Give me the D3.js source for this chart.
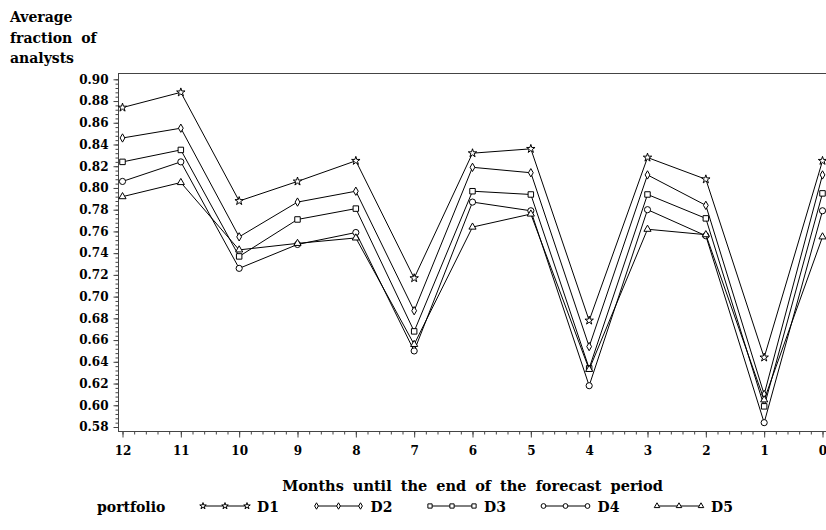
<!DOCTYPE html>
<html>
<head>
<meta charset="utf-8">
<script src="https://cdn.jsdelivr.net/npm/d3@7"></script>
<style>
  body { margin: 0; background: #fff; }
  text { font-family: "DejaVu Serif", serif; font-weight: bold; fill: #000; }
</style>
</head>
<body>
<svg id="chart"></svg>
<script>
  // Months until the end of the forecast period (x axis, reversed)
  const months = [12, 11, 10, 9, 8, 7, 6, 5, 4, 3, 2, 1, 0];

  // Average fraction of analysts, per portfolio
  const valuesD1 = [0.874, 0.888, 0.788, 0.806, 0.825, 0.717, 0.832, 0.836, 0.678, 0.828, 0.808, 0.644, 0.825];
  const valuesD2 = [0.846, 0.855, 0.755, 0.787, 0.797, 0.687, 0.819, 0.814, 0.654, 0.812, 0.784, 0.610, 0.812];
  const valuesD3 = [0.824, 0.835, 0.737, 0.771, 0.781, 0.668, 0.797, 0.794, 0.634, 0.794, 0.772, 0.599, 0.795];
  const valuesD4 = [0.806, 0.824, 0.726, 0.748, 0.759, 0.650, 0.787, 0.779, 0.618, 0.780, 0.756, 0.584, 0.779];
  const valuesD5 = [0.792, 0.805, 0.743, 0.749, 0.754, 0.656, 0.764, 0.776, 0.633, 0.762, 0.757, 0.605, 0.755];

  const portfolioNames = ["D1", "D2", "D3", "D4", "D5"];
  const yTicks = [0.58, 0.60, 0.62, 0.64, 0.66, 0.68, 0.70, 0.72, 0.74, 0.76, 0.78, 0.80, 0.82, 0.84, 0.86, 0.88, 0.90];
  const yLabelLines = ["Average", "fraction of", "analysts"];
  const xTitle = "Months until the end of the forecast period";
  const legendTitle = "portfolio";

  const series = [valuesD1, valuesD2, valuesD3, valuesD4, valuesD5];
  const symbols = [d3.symbolStar, d3.symbolDiamond, d3.symbolSquare, d3.symbolCircle, d3.symbolTriangle];
  const symbolSizes = [22, 20, 30, 30, 22];

  const width = 826, height = 530;
  const frame = { left: 118.5, top: 73.5, right: 826.5, bottom: 431.5 };

  const svg = d3.select("#chart").attr("width", width).attr("height", height);

  const xScale = d3.scaleLinear().domain([12, 0]).range([122.5, 822.5]);
  const yScale = d3.scaleLinear().domain([0.58, 0.90]).range([427, 79.3]);

  // Frame
  svg.append("rect")
    .attr("x", frame.left).attr("y", frame.top)
    .attr("width", frame.right - frame.left).attr("height", frame.bottom - frame.top)
    .attr("fill", "none").attr("stroke", "#444").attr("stroke-width", 1);

  // Y axis with minor ticks
  const yAxis = svg.append("g").attr("transform", `translate(${frame.left},0)`);
  yAxis.call(d3.axisLeft(yScale).tickValues(d3.range(0.58, 0.9001, 0.004)).tickSize(3).tickFormat(""));
  yAxis.append("g").call(d3.axisLeft(yScale).tickValues(yTicks).tickSize(5).tickPadding(5).tickFormat(d3.format(".2f")));
  yAxis.selectAll(".domain").remove();
  yAxis.selectAll("line").attr("stroke", "#444");
  yAxis.selectAll("text").attr("font-size", 12).attr("font-family", null);

  // X axis with minor ticks
  const xAxis = svg.append("g").attr("transform", `translate(0,${frame.bottom})`);
  xAxis.call(d3.axisBottom(xScale).tickValues(d3.range(0, 12.001, 0.2)).tickSize(3).tickFormat(""));
  xAxis.append("g").call(d3.axisBottom(xScale).tickValues(months).tickSize(6).tickPadding(9).tickFormat(d3.format("d")));
  xAxis.selectAll(".domain").remove();
  xAxis.selectAll("line").attr("stroke", "#444");
  xAxis.selectAll("text").attr("font-size", 12).attr("font-family", null);

  // Y axis label (top left)
  svg.append("text")
    .attr("x", 10).attr("y", 22)
    .attr("font-size", 14)
    .selectAll("tspan")
    .data(yLabelLines)
    .join("tspan")
    .attr("x", 10)
    .attr("dy", (d, i) => (i === 0 ? 0 : 20.6))
    .attr("word-spacing", 4)
    .text((d) => d);

  // X axis title
  svg.append("text")
    .attr("x", (frame.left + frame.right) / 2).attr("y", 491)
    .attr("text-anchor", "middle").attr("font-size", 14.5).attr("word-spacing", 4)
    .text(xTitle);

  // Lines and markers
  const line = d3.line()
    .x((d, i) => xScale(months[i]))
    .y((d) => yScale(d));

  series.forEach((values, k) => {
    svg.append("path")
      .datum(values)
      .attr("fill", "none")
      .attr("stroke", "#000")
      .attr("stroke-width", 1)
      .attr("d", line);

    svg.append("g")
      .selectAll("path")
      .data(values)
      .join("path")
      .attr("transform", (d, i) => `translate(${xScale(months[i])},${yScale(d)})`)
      .attr("d", d3.symbol().type(symbols[k]).size(symbolSizes[k]))
      .attr("fill", "#fff")
      .attr("stroke", "#000")
      .attr("stroke-width", 1);
  });

  // Legend
  const legendY = 506;
  svg.append("text").attr("x", 97).attr("y", 512).attr("font-size", 14).text(legendTitle);

  const legendX = d3.scaleLinear().domain([0, 4]).range([203, 657]);
  portfolioNames.forEach((name, k) => {
    const x0 = legendX(k);
    const g = svg.append("g");
    g.append("line")
      .attr("x1", x0).attr("x2", x0 + 44)
      .attr("y1", legendY).attr("y2", legendY)
      .attr("stroke", "#000").attr("stroke-width", 1);
    g.selectAll("path")
      .data([0, 22, 44])
      .join("path")
      .attr("transform", (d) => `translate(${x0 + d},${legendY})`)
      .attr("d", d3.symbol().type(symbols[k]).size(symbolSizes[k] * 0.6))
      .attr("fill", "#fff")
      .attr("stroke", "#000")
      .attr("stroke-width", 1);
    g.append("text")
      .attr("x", x0 + 54).attr("y", 512)
      .attr("font-size", 14)
      .text(name);
  });
</script>
</body>
</html>
